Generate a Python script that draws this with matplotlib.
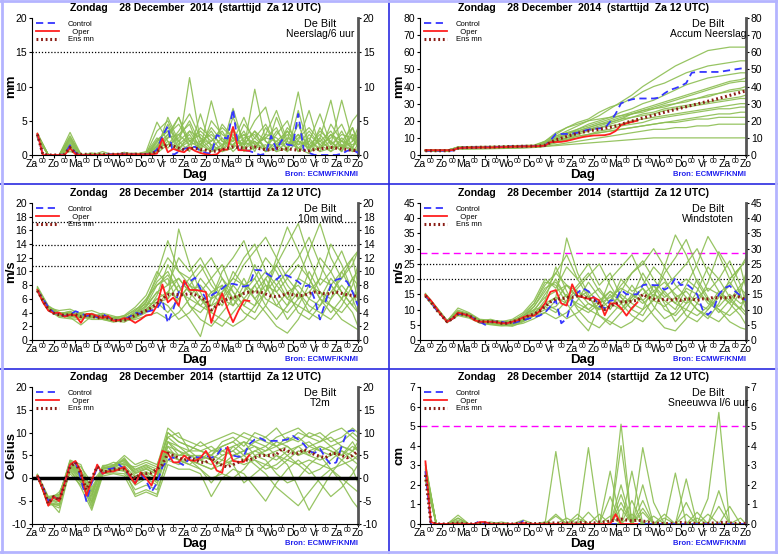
import numpy as np
import matplotlib
matplotlib.use('Agg')
import matplotlib.pyplot as plt
from matplotlib.lines import Line2D

plt.rcParams['font.family'] = ['Liberation Sans', 'DejaVu Sans']

# tijdas (uren na Za 12 UTC)
hours = np.arange(6, 361, 6)
oper_hours = hours[:40]
member_hours = list(range(6, 355, 12)) + [360]

day_labels = ['Za', 'Zo', 'Ma', 'Di', 'Wo', 'Do', 'Vr', 'Za', 'Zo', 'Ma', 'Di', 'Wo', 'Do', 'Vr', 'Za', 'Zo']
title_text = 'Zondag    28 December  2014  (starttijd  Za 12 UTC)'

# ---------------- Neerslag/6 uur ----------------
precip_control = [3.0, 0, 0, 0, 0, 0.1, 1.4, 0.3, 0, 0,
                  0, 0, 0, 0.1, 0.1, 0.1, 0.2, 0.1, 0.1, 0.1,
                  0.1, 0.2, 0.8, 2.8, 4.2, 0.0, 0.5, 0.9, 1.1, 1.2,
                  0.6, 0.3, 0.2, 2.9, 2.6, 2.4, 6.7, 0.8, 0.7, 0.6,
                  0.3, 0, 0.2, 2.8, 0.8, 2.2, 1.5, 1.4, 6.0, 0.8,
                  0.3, 0, 0, 0, 0, 0, 0.2, 0.6, 0.8, 0.3]
precip_oper = [3.1, 0, 0, 0, 0, 0, 1.0, 0.1, 0, 0,
               0, 0, 0, 0, 0.1, 0.1, 0.1, 0.1, 0.1, 0.1,
               0.1, 0.1, 0.2, 2.4, 0.4, 0.9, 0.6, 0.4, 1.1, 0.6,
               0.3, 0.1, 0.0, 0.1, 0.8, 0.8, 4.1, 0.7, 0.7, 0.6]
precip_mean = [3.0, 0.1, 0, 0, 0, 0.1, 1.1, 0.2, 0.1, 0.1,
               0.1, 0.1, 0.1, 0.1, 0.1, 0.1, 0.2, 0.1, 0.1, 0.1,
               0.1, 0.2, 0.5, 1.2, 1.5, 1.3, 1.0, 0.8, 0.9, 1.0,
               0.8, 0.7, 0.5, 0.6, 0.8, 1.0, 1.2, 1.1, 1.0, 1.0,
               1.2, 0.9, 0.8, 0.7, 1.0, 0.8, 0.9, 0.8, 0.7, 0.7,
               0.6, 0.8, 0.9, 1.0, 1.1, 1.0, 0.9, 0.8, 0.7, 0.6]
precip_members = [
    [2.8, 0, 0, 1.5, 0, 0.1, 0, 0, 0.2, 0, 0.1, 1.2, 4.5, 1.0, 11.3, 2.0, 0.5, 1.5, 3.0, 0.8, 2.0, 0.5, 1.0, 3.5, 1.0, 0.2, 2.5, 0.5, 1.5, 0.8, 0.5],
    [3.2, 0, 0, 3.3, 0.1, 0, 0, 0.1, 0, 0.3, 0, 0.5, 2.5, 5.5, 2.0, 1.0, 7.9, 2.0, 1.5, 3.5, 0.5, 4.0, 1.5, 0.5, 2.0, 6.5, 1.0, 2.0, 0.5, 3.0, 1.0],
    [2.5, 0, 0, 0.8, 0, 0, 0.5, 0, 0.1, 0, 0.2, 3.5, 5.0, 1.5, 3.0, 0.5, 1.0, 4.5, 2.5, 1.0, 9.6, 2.0, 0.5, 1.0, 3.0, 1.5, 0.5, 4.5, 2.0, 1.0, 2.5],
    [3.0, 0, 0, 2.2, 0, 0, 0, 0, 0.4, 0, 0, 0.3, 1.5, 3.5, 6.0, 2.5, 0.8, 1.0, 5.5, 2.0, 1.0, 3.0, 6.5, 2.0, 9.2, 1.0, 2.0, 1.0, 3.5, 0.5, 1.0],
    [2.7, 0, 0, 1.0, 0, 0.2, 0, 0, 0, 0.1, 0.5, 4.8, 2.0, 0.5, 1.5, 4.0, 2.5, 0.5, 1.0, 4.5, 2.5, 1.0, 3.0, 5.0, 0.5, 2.0, 6.0, 1.5, 8.0, 2.0, 4.0],
    [2.9, 0, 0, 2.8, 0, 0, 0.2, 0, 0, 0, 0.1, 1.5, 3.0, 5.5, 1.0, 1.5, 3.5, 1.0, 6.8, 1.5, 3.5, 0.5, 2.0, 1.0, 4.5, 0.5, 1.0, 3.0, 1.0, 5.0, 6.0],
    [2.6, 0, 0, 0.5, 0, 0, 0, 0, 0.3, 0.2, 0, 0.8, 5.5, 2.0, 0.5, 6.0, 1.0, 2.5, 0.5, 2.0, 5.0, 7.0, 1.0, 2.5, 1.5, 3.5, 1.5, 0.5, 2.5, 1.0, 0.5],
    [3.1, 0, 0, 1.8, 0.1, 0, 0, 0, 0, 0, 0.3, 2.5, 1.0, 3.0, 4.5, 0.5, 5.0, 3.0, 2.0, 5.5, 1.5, 2.5, 4.0, 0.5, 6.5, 1.0, 3.5, 2.0, 0.5, 4.0, 2.0],
    [2.5, 0, 0, 1.2, 0, 0, 0, 0, 0, 0, 0, 0.5, 2.0, 1.0, 2.5, 1.5, 0.5, 1.0, 4.0, 0.5, 1.0, 1.5, 0.5, 2.0, 1.0, 2.5, 0.5, 1.0, 1.5, 0.5, 1.5],
    [3.0, 0, 0, 2.0, 0, 0.3, 0, 0, 0.2, 0, 0, 2.0, 3.5, 0.5, 3.5, 2.5, 1.5, 0.5, 2.5, 1.5, 2.0, 0.5, 5.5, 1.5, 2.0, 1.0, 2.5, 8.0, 1.0, 2.0, 3.0],
    [2.7, 0, 0, 1.6, 0, 0, 0.1, 0, 0, 0.2, 0.1, 1.0, 2.5, 3.0, 1.5, 2.0, 3.0, 1.5, 2.0, 3.0, 1.5, 2.5, 2.0, 3.5, 1.5, 2.0, 1.0, 3.0, 2.0, 1.5, 2.0],
    [2.9, 0, 0, 2.4, 0, 0, 0, 0.2, 0.1, 0, 0, 1.8, 4.0, 2.0, 3.5, 1.0, 2.0, 3.5, 1.0, 2.5, 3.0, 1.0, 3.5, 1.5, 3.0, 0.5, 4.0, 1.5, 3.0, 2.5, 1.0],
    [3.0, 0, 0, 1.3, 0, 0.1, 0, 0, 0, 0, 0.2, 0.6, 3.0, 4.5, 2.0, 3.0, 1.5, 0.5, 3.5, 1.0, 2.5, 4.5, 1.5, 3.0, 0.5, 3.0, 1.5, 2.5, 4.5, 1.0, 3.5],
    [2.6, 0, 0, 2.6, 0.1, 0, 0, 0, 0.1, 0.1, 0, 1.3, 1.5, 2.5, 5.0, 1.5, 4.0, 2.0, 1.5, 3.0, 1.0, 3.0, 2.5, 1.0, 2.5, 4.0, 2.0, 3.5, 1.0, 3.0, 2.5],
    [2.8, 0, 0, 0.9, 0, 0, 0, 0, 0.2, 0, 0.1, 2.2, 3.5, 1.0, 2.0, 3.5, 2.0, 4.0, 2.5, 1.5, 3.5, 2.0, 1.0, 4.0, 2.0, 1.5, 3.0, 1.0, 2.0, 4.0, 1.5],
]

# ---------------- Accum Neerslag ----------------
accum_control = [2.5, 2.5, 2.5, 2.5, 2.5, 2.6, 4.0, 4.3, 4.4, 4.4,
                 4.5, 4.5, 4.6, 4.7, 4.8, 4.9, 5.0, 5.0, 5.1, 5.1,
                 5.2, 5.3, 5.5, 8.5, 12.3, 12.3, 12.3, 12.5, 13.0, 14.0,
                 14.8, 15.3, 15.5, 15.5, 19.5, 24.0, 30.2, 31.5, 32.5, 33.0,
                 33.0, 33.0, 33.0, 33.5, 36.0, 38.0, 39.0, 40.3, 42.0, 48.0,
                 48.5, 48.5, 48.5, 48.5, 48.5, 49.0, 49.5, 50.0, 50.5, 51.0]
accum_oper = [2.8, 2.8, 2.8, 2.8, 2.8, 2.9, 3.9, 4.2, 4.3, 4.3,
              4.4, 4.4, 4.4, 4.5, 4.6, 4.7, 4.8, 4.9, 5.0, 5.0,
              5.1, 5.2, 5.5, 7.5, 7.6, 7.7, 8.2, 9.0, 9.8, 10.5,
              11.0, 11.4, 11.5, 11.6, 12.3, 14.0, 17.5, 18.5, 19.3, 20.0]
accum_mean = [2.5, 2.5, 2.5, 2.5, 2.5, 2.6, 4.0, 4.3, 4.4, 4.4,
              4.5, 4.5, 4.6, 4.7, 4.8, 4.9, 5.0, 5.0, 5.1, 5.1,
              5.2, 5.3, 5.7, 7.3, 8.8, 9.8, 10.8, 11.8, 12.6, 13.4,
              14.0, 14.6, 15.1, 15.6, 16.2, 16.9, 17.8, 19.0, 19.8, 20.7,
              21.6, 22.4, 23.3, 24.1, 25.0, 25.8, 26.6, 27.4, 28.2, 29.0,
              29.8, 30.6, 31.4, 32.2, 33.1, 33.9, 34.8, 35.7, 36.6, 37.5]
accum_members = [
    [2.8, 2.8, 2.8, 4.3, 4.4, 4.5, 4.6, 4.8, 5.0, 5.2, 5.5, 7.5, 11, 14, 17, 20, 23, 27, 31, 35, 40, 44, 48, 52, 55, 58, 61, 62, 63, 63, 63],
    [2.5, 2.5, 2.5, 4.8, 4.9, 5.0, 5.1, 5.2, 5.4, 5.6, 5.8, 8, 13, 16, 19, 21, 25, 28, 30, 33, 37, 40, 42, 45, 48, 50, 52, 53, 54, 55, 55],
    [3.0, 3.0, 3.0, 4.0, 4.0, 4.2, 4.4, 4.5, 4.6, 4.8, 5.0, 6.5, 10, 12, 15, 18, 20, 22, 25, 27, 30, 32, 35, 38, 41, 43, 45, 46, 47, 48, 48],
    [2.2, 2.2, 2.2, 3.8, 3.8, 3.9, 4.0, 4.2, 4.5, 4.6, 4.7, 6, 9, 11, 13, 15, 17, 19, 21, 24, 26, 28, 30, 32, 34, 36, 38, 40, 42, 43, 43],
    [2.6, 2.6, 2.6, 4.5, 4.5, 4.6, 4.7, 4.9, 5.0, 5.1, 5.3, 8, 12, 16, 18, 20, 21, 22, 23, 24, 26, 27, 28, 30, 31, 33, 34, 36, 37, 38, 38],
    [2.9, 2.9, 2.9, 4.2, 4.2, 4.4, 4.6, 4.6, 4.8, 5.0, 5.2, 6, 8, 10, 13, 15, 16, 18, 20, 22, 23, 24, 26, 27, 28, 29, 30, 31, 32, 33, 33],
    [2.4, 2.4, 2.4, 4.0, 4.0, 4.1, 4.2, 4.3, 4.4, 4.5, 4.6, 5.5, 7, 9, 11, 12, 14, 15, 17, 18, 19, 21, 22, 23, 24, 25, 26, 27, 27, 28, 28],
    [2.7, 2.7, 2.7, 4.4, 4.5, 4.5, 4.5, 4.6, 4.7, 4.8, 5.0, 6, 8, 9, 10, 12, 13, 14, 15, 16, 17, 18, 19, 19, 20, 21, 21, 22, 22, 22, 22],
    [2.3, 2.3, 2.3, 3.5, 3.5, 3.6, 3.7, 3.8, 4.0, 4.2, 4.4, 5, 6, 7, 8, 9, 10, 11, 12, 13, 14, 15, 15, 16, 16, 17, 17, 18, 18, 18, 18],
    [2.5, 2.5, 2.5, 3.6, 3.6, 3.7, 3.8, 3.9, 4.0, 4.2, 4.5, 5, 5.5, 6, 6.5, 7, 7.5, 8, 8.5, 9, 9.5, 10, 10, 10, 10, 10, 10, 10, 10, 10, 10],
    [2.6, 2.6, 2.6, 4.4, 4.4, 4.5, 4.6, 4.7, 4.8, 5.0, 5.2, 7, 10, 13, 15, 17, 19, 21, 23, 25, 27, 29, 31, 33, 35, 37, 39, 41, 43, 44, 45],
    [2.4, 2.4, 2.4, 4.1, 4.1, 4.2, 4.3, 4.4, 4.6, 4.8, 5.0, 6, 9, 12, 14, 16, 18, 20, 22, 24, 25, 27, 29, 30, 32, 33, 35, 36, 38, 39, 40],
    [2.8, 2.8, 2.8, 4.6, 4.6, 4.7, 4.8, 4.9, 5.1, 5.2, 5.4, 7, 11, 13, 14, 16, 18, 19, 21, 22, 24, 25, 27, 28, 29, 30, 31, 32, 33, 34, 35],
    [2.5, 2.5, 2.5, 3.9, 3.9, 4.0, 4.1, 4.2, 4.3, 4.4, 4.6, 5.5, 8, 10, 12, 14, 16, 17, 18, 20, 21, 22, 23, 24, 25, 26, 27, 28, 29, 30, 30],
    [2.7, 2.7, 2.7, 4.3, 4.3, 4.4, 4.5, 4.6, 4.7, 4.9, 5.1, 6, 8, 10, 11, 12, 13, 14, 15, 16, 17, 18, 19, 20, 21, 22, 23, 24, 24, 25, 25],
]

# ---------------- 10m wind ----------------
wind_control = [7.2, 6.0, 4.8, 4.0, 3.7, 3.5, 3.7, 4.2, 3.9, 3.5,
                3.7, 3.3, 3.8, 3.3, 2.9, 2.9, 3.0, 3.4, 4.0, 3.8,
                4.1, 4.3, 4.6, 5.8, 2.5, 4.5, 7.0, 8.2, 8.5, 9.1,
                7.5, 6.0, 6.5, 7.0, 7.5, 8.2, 8.2, 8.0, 7.8, 8.0,
                10.2, 10.2, 9.8, 9.3, 8.8, 9.6, 9.4, 9.0, 8.5, 7.8,
                8.0, 6.0, 3.0, 5.5, 8.0, 8.8, 9.0, 8.5, 7.0, 5.0]
wind_oper = [7.3, 5.5, 4.3, 3.9, 4.0, 3.4, 3.7, 3.6, 2.5, 3.8,
             3.8, 3.5, 3.2, 3.5, 2.8, 2.9, 3.2, 3.0, 2.5, 3.0,
             3.6, 3.7, 5.0, 8.1, 5.5, 6.2, 5.0, 8.7, 7.3, 7.3,
             7.2, 7.0, 2.5, 5.0, 6.8, 4.5, 2.6, 4.3, 5.8, 5.7]
wind_mean = [7.2, 5.8, 4.5, 3.9, 3.7, 3.6, 3.7, 3.7, 3.4, 3.6,
             3.5, 3.2, 3.4, 3.2, 2.9, 2.8, 2.9, 3.2, 3.6, 4.0,
             4.3, 4.7, 5.3, 6.0, 6.6, 6.7, 6.6, 6.6, 6.8, 6.6,
             6.2, 5.8, 4.4, 5.0, 5.6, 6.0, 6.2, 6.4, 6.8, 7.0,
             7.0, 7.0, 6.7, 6.4, 6.3, 6.5, 6.8, 6.6, 6.5, 6.5,
             6.8, 7.0, 6.9, 6.7, 6.8, 7.0, 6.8, 6.6, 6.5, 6.3]
wind_members = [
    [7.5, 4.8, 3.8, 4.2, 3.5, 3.8, 3.2, 3.0, 3.2, 3.8, 5.5, 9.5, 14.5, 10, 8, 6, 4, 7, 9, 12, 14, 10, 8, 6, 9, 13, 17, 12, 9, 11, 13],
    [7.0, 4.3, 3.5, 3.3, 2.2, 3.5, 3.6, 2.8, 2.6, 3.5, 4.8, 7, 6, 16.2, 11, 7, 3, 2, 4, 6, 8, 5, 3, 5, 7, 4, 3, 6, 10, 12, 8],
    [7.8, 5.0, 4.0, 3.8, 4.0, 4.3, 3.7, 3.3, 3.0, 4.2, 6.0, 8, 9, 5, 3, 0.5, 6, 10, 12, 14.5, 10, 7, 12, 16.5, 13, 9, 6, 4, 6, 9, 10],
    [7.2, 4.6, 3.6, 3.6, 3.4, 3.0, 3.0, 2.7, 3.4, 4.5, 5.2, 5.5, 4, 6, 8, 10, 12, 9, 6, 4, 3, 5, 8, 10, 12, 15, 11, 8, 6, 4, 2],
    [7.4, 4.7, 4.3, 4.5, 3.8, 3.4, 3.9, 3.5, 3.0, 3.2, 4.0, 6.5, 11, 8, 5, 3, 2, 4, 6, 9, 6, 4, 2, 1, 3, 6, 9, 14, 11, 7, 5],
    [7.3, 4.4, 3.3, 3.1, 3.0, 3.8, 3.3, 2.9, 2.8, 3.0, 3.5, 4, 3, 4, 6, 9, 7, 5, 8, 11, 13, 15, 12, 9, 7, 5, 4, 3, 5, 8, 11],
    [7.6, 4.9, 3.9, 4.0, 3.6, 3.2, 3.5, 3.1, 3.6, 4.8, 6.5, 10, 8, 12, 10, 12, 9, 11, 7, 5, 4, 7, 11, 14, 17, 12, 8, 10, 13, 9, 6],
    [7.1, 4.5, 3.7, 3.5, 3.3, 3.6, 3.0, 2.6, 2.9, 3.3, 4.2, 5, 7, 9, 7, 5, 4, 3, 2, 3, 5, 9, 6, 3, 5, 8, 12, 10, 7, 5, 4],
    [7.5, 4.6, 3.9, 3.7, 3.9, 3.7, 3.4, 3.2, 3.1, 3.9, 5.0, 8, 9.5, 7, 9, 11, 8, 6, 10, 8, 9, 12, 10, 7, 4, 3, 5, 7, 9, 12, 13],
    [7.3, 4.7, 3.6, 3.4, 3.2, 3.3, 3.1, 2.8, 3.3, 3.6, 4.5, 6, 5, 3, 4, 6, 5, 8, 5, 7, 11, 8, 5, 4, 6, 10, 7, 5, 3, 2, 1.5],
    [7.4, 4.5, 3.7, 3.9, 3.5, 3.6, 3.4, 3.0, 3.1, 3.7, 5.0, 7, 8, 9, 7, 8, 6, 7, 9, 8, 7, 9, 11, 8, 6, 7, 9, 8, 10, 7, 6],
    [7.2, 4.8, 3.8, 3.7, 3.3, 3.4, 3.2, 2.9, 3.2, 4.0, 5.5, 8.5, 10, 7, 6, 5, 7, 8, 6, 7, 9, 6, 5, 7, 8, 6, 5, 8, 6, 9, 8],
    [7.6, 4.6, 3.5, 3.6, 3.7, 3.5, 3.6, 3.1, 3.0, 3.4, 4.5, 6, 7, 6, 8, 7, 9, 6, 5, 8, 6, 8, 7, 5, 9, 8, 7, 6, 8, 6, 7],
    [7.3, 4.4, 3.9, 4.1, 3.4, 3.9, 3.3, 3.3, 3.5, 4.3, 5.8, 9, 12, 10, 9, 6, 5, 6, 8, 6, 5, 7, 9, 6, 5, 4, 6, 9, 7, 5, 9],
    [7.1, 4.7, 3.6, 3.4, 3.6, 3.3, 3.5, 2.8, 2.9, 3.5, 4.2, 5.5, 6, 8, 5, 4, 6, 9, 7, 5, 8, 10, 7, 9, 11, 9, 6, 5, 4, 6, 4],
]

# ---------------- Windstoten ----------------
gust_control = [14.5, 12.5, 10.0, 8.0, 6.0, 7.0, 8.5, 8.5, 8.0, 7.0,
                6.0, 5.0, 6.0, 6.0, 6.0, 5.5, 5.5, 6.0, 6.5, 7.0,
                7.5, 8.0, 9.0, 11.0, 13.0, 5.5, 7.0, 13.0, 15.5, 17.0,
                16.0, 14.0, 11.0, 10.5, 13.0, 13.0, 16.5, 15.0, 15.0, 15.0,
                18.0, 18.3, 18.0, 18.0, 16.5, 17.5, 20.3, 18.0, 18.5, 17.0,
                15.0, 10.0, 8.3, 10.0, 15.0, 17.0, 17.8, 16.0, 14.5, 13.0]
gust_oper = [14.8, 13.0, 10.5, 8.0, 6.0, 7.0, 9.0, 8.5, 8.0, 6.5,
             6.0, 6.0, 6.0, 5.8, 5.5, 5.5, 6.0, 6.5, 7.5, 8.0,
             8.0, 9.5, 12.0, 15.8, 16.4, 12.0, 11.3, 18.3, 14.5, 14.0,
             13.5, 14.0, 13.0, 8.1, 12.0, 12.0, 10.5, 8.0, 10.5, 12.3]
gust_mean = [14.5, 12.5, 10.0, 8.0, 6.0, 7.0, 8.5, 8.5, 8.0, 7.0,
             6.0, 6.0, 6.0, 6.0, 5.5, 5.5, 6.0, 6.5, 7.0, 8.0,
             8.5, 9.5, 11.0, 12.5, 13.5, 13.5, 14.0, 14.0, 14.5, 14.3,
             13.5, 13.0, 12.0, 10.0, 11.0, 12.0, 12.5, 12.5, 12.8, 13.0,
             15.0, 14.0, 13.5, 13.0, 13.5, 13.0, 13.5, 13.0, 13.5, 13.5,
             13.0, 13.5, 13.5, 14.0, 13.8, 13.8, 14.0, 14.5, 14.0, 13.2]
gust_members = [
    [14.8, 10.5, 6.0, 9.0, 8.5, 6.5, 6.0, 5.5, 5.5, 7.5, 11, 16, 22, 28, 20, 14, 10, 13, 18, 22, 26, 20, 15, 12, 18, 25, 34, 28, 20, 24, 27],
    [14.2, 9.8, 5.8, 8.2, 7.8, 5.5, 5.2, 4.8, 4.5, 6.0, 8, 11, 14, 33.5, 22, 15, 8, 5, 9, 13, 17, 11, 7, 9, 14, 10, 7, 12, 20, 24, 17],
    [15.3, 10.8, 6.3, 10.5, 9.0, 6.8, 6.5, 6.2, 6.0, 8.5, 12, 19, 18, 12, 7, 3, 11, 20, 24, 28, 20, 14, 24, 34.5, 28, 19, 13, 9, 13, 18, 20],
    [14.5, 10.2, 6.2, 8.8, 8.2, 6.0, 5.8, 5.0, 6.5, 8.0, 10, 11, 9, 13, 17, 21, 25, 18, 12, 8, 6, 10, 17, 21, 25, 30, 22, 16, 12, 8, 5],
    [14.9, 10.6, 5.9, 9.5, 8.0, 6.2, 6.8, 5.8, 5.2, 6.5, 8.5, 13, 24, 16, 10, 6, 4, 8, 12, 18, 13, 8, 4, 3, 7, 12, 19, 29, 23, 15, 10],
    [14.6, 10.0, 6.1, 8.5, 7.5, 5.8, 5.5, 5.2, 4.8, 5.5, 7, 9, 7, 9, 13, 19, 14, 10, 16, 22, 25, 30, 24, 18, 14, 10, 8, 6, 10, 16, 22],
    [15.0, 10.9, 6.4, 9.8, 8.7, 6.6, 6.2, 6.0, 6.8, 9.0, 13, 20, 17, 24, 20, 25, 18, 22, 14, 10, 8, 14, 22, 27, 33, 24, 16, 20, 26, 18, 12],
    [14.4, 10.3, 5.7, 8.0, 7.2, 5.6, 5.0, 4.6, 5.0, 6.2, 8, 9, 13, 18, 14, 10, 8, 6, 4, 6, 10, 18, 12, 6, 10, 16, 24, 20, 14, 10, 8],
    [14.7, 10.4, 6.0, 9.2, 8.4, 6.3, 6.0, 5.6, 5.8, 7.0, 9.5, 15, 20, 14, 18, 22, 16, 12, 20, 16, 18, 24, 20, 14, 8, 6, 10, 14, 18, 24, 26],
    [14.5, 10.1, 6.2, 8.6, 7.9, 6.0, 5.4, 5.0, 5.5, 6.8, 8.5, 12, 10, 7, 9, 12, 10, 15, 10, 14, 22, 16, 10, 8, 12, 20, 14, 10, 6, 4, 3.5],
    [14.6, 10.3, 6.1, 9.0, 8.1, 6.1, 5.9, 5.4, 5.6, 7.2, 10, 14, 16, 18, 14, 16, 12, 14, 17, 15, 13, 16, 19, 15, 12, 14, 17, 15, 19, 14, 12],
    [14.8, 10.6, 6.3, 8.7, 8.3, 6.4, 6.1, 5.3, 5.9, 7.6, 11, 17, 19, 14, 12, 10, 13, 16, 12, 14, 17, 13, 11, 14, 16, 12, 10, 15, 12, 17, 15],
    [15.1, 10.2, 5.9, 9.3, 8.6, 6.2, 6.3, 5.7, 5.4, 6.6, 9, 12, 14, 12, 16, 14, 17, 12, 10, 15, 12, 15, 13, 10, 17, 15, 13, 11, 15, 12, 13],
    [14.4, 10.5, 6.2, 8.9, 7.8, 6.5, 5.6, 5.5, 6.2, 7.8, 12, 18, 22, 18, 16, 12, 10, 11, 15, 12, 10, 13, 16, 12, 10, 8, 11, 16, 13, 10, 16],
    [14.7, 10.7, 6.0, 8.4, 8.2, 5.9, 6.4, 5.1, 5.1, 6.4, 8, 10, 11, 15, 11, 9, 12, 16, 14, 10, 15, 18, 14, 17, 20, 17, 12, 10, 8, 11, 9],
]

# ---------------- T2m ----------------
temp_control = [0.5, -2.0, -5.0, -4.0, -4.8, -1.0, 3.0, 3.5, 0.0, -5.0,
                -1.0, 2.5, 1.0, 2.0, 2.2, 3.0, 2.0, 0.5, -1.0, 1.0,
                -0.5, -3.0, -1.0, 2.5, 4.0, 4.6, 3.5, 2.8, 4.5, 4.7,
                4.5, 5.0, 4.5, 5.0, 6.8, 6.5, 5.0, 4.7, 5.0, 7.5,
                8.5, 8.8, 8.2, 8.2, 8.2, 8.3, 8.5, 9.3, 8.5, 7.5,
                6.0, 5.5, 6.5, 4.5, 3.0, 3.5, 7.0, 10.2, 10.5, 10.0]
temp_oper = [0.5, -2.5, -6.0, -4.0, -5.0, -1.0, 3.0, 3.8, 1.5, -3.8,
             -0.5, 3.0, 1.0, 1.5, 1.5, 2.0, 2.5, 0.5, -1.2, 1.3,
             0.0, -1.6, 2.0, 6.0, 5.5, 3.5, 3.5, 5.0, 4.0, 3.8,
             4.5, 6.0, 4.0, 1.7, 1.2, 6.9, 3.8, 3.6, 3.6, 5.1]
temp_mean = [0.5, -2.0, -5.5, -4.0, -4.8, -1.5, 2.5, 3.5, 1.0, -2.5,
             0.0, 2.5, 1.5, 1.5, 2.0, 2.0, 2.0, 1.0, 0.0, 1.0,
             1.0, 1.2, 2.0, 3.0, 5.5, 5.0, 4.5, 4.0, 4.5, 4.0,
             3.5, 3.5, 4.5, 3.5, 2.8, 2.5, 3.0, 3.5, 4.0, 4.0,
             4.5, 5.0, 5.0, 5.0, 5.2, 6.5, 6.0, 5.5, 5.5, 6.3,
             5.8, 5.2, 4.8, 4.5, 5.3, 5.5, 5.0, 4.5, 5.0, 6.0]
temp_members = [
    [0.8, -4.0, -3.5, 3.5, 1.5, -2.0, 2.0, 2.5, 4.5, 1.0, 2.0, 1.0, 10, 8, 7, 6, 5, 8, 9, 7, 10, 9, 11, 8, 10, 9, 10, 8, 9, 11, 10],
    [0.5, -5.5, -6.5, 2.5, -0.5, -6.5, 1.0, 1.5, 2.0, -3.5, -2.5, -3.5, 5, 4, 3, 2, -1, 2, 4, 5, 3, 1, -2, -4, -6, -3, 0, 2, -1, -5, -6.5],
    [0.3, -4.5, -4.0, 4.0, 3.0, -3.0, 2.5, 3.5, 3.0, 2.5, 3.5, 2.5, 11, 9, 8, 7, 8, 9, 10, 9, 8, 7, 9, 10, 11, 9, 8, 10, 11, 9, 8],
    [0.6, -6.0, -5.0, 3.0, 0.5, -5.0, 1.5, 2.0, 1.5, -1.5, 0, -1.5, 6, 5, 5, 4, 3, 5, 6, 4, 6, 5, 4, 6, 7, 5, 4, 5, 6, 5, 4],
    [0.9, -5.0, -3.0, 1.0, -1.5, -4.0, 2.8, 3.0, 4.0, 0.5, 1.5, 0, 8, 6, 4, 3, 2, 4, 3, -1, 1, 3, 5, 3, -2, -7, -3, 1, 4, 2, -1],
    [0.4, -4.8, -7.5, 2.0, -2.0, -7.0, 0.5, 1.0, 0.5, -4.0, -3.0, -4.0, 3, 2, 2, 1, -4, 0, 2, 1, -2, -5, -1, 2, 4, 2, -1, -4, -2, 1, 3],
    [0.7, -5.2, -4.5, 3.8, 2.5, -1.0, 2.2, 2.8, 5.0, 3.0, 4.0, 3.0, 9, 10, 6, 8, 6, 7, 8, 10, 9, 8, 7, 9, 8, 10, 9, 7, 8, 10, 9],
    [0.5, -5.8, -5.5, 2.8, 0, -5.5, 1.2, 1.8, 2.5, -0.5, 1.0, -1.0, 7, 4, 3, 5, 4, 3, 5, 6, 4, 2, 3, 5, 3, 1, 2, 4, 6, 4, 5],
    [0.6, -4.2, -3.8, 3.2, 1.0, -3.5, 2.0, 2.2, 3.5, 1.5, 2.5, 1.5, 8, 7, 5, 4, 6, 6, 7, 8, 7, 6, 8, 7, 5, 6, 7, 6, 5, 7, 6],
    [0.4, -5.5, -6.0, 1.5, -1.0, -6.0, 1.0, 1.2, 1.0, -2.5, -1.5, -2.5, 4, 3, 4, 2, 0, 1, 0, 2, 5, 4, 1, -1, 0, 3, 5, 2, 0, -2, -3],
    [0.6, -4.6, -4.2, 3.4, 1.2, -3.0, 2.3, 2.6, 3.2, 1.2, 2.2, 0.8, 7, 6, 5, 5, 4, 6, 5, 6, 7, 5, 6, 7, 5, 7, 6, 5, 7, 6, 5],
    [0.5, -5.3, -5.0, 2.6, 0.2, -4.5, 1.6, 2.0, 2.8, 0.2, 1.2, 0.2, 8, 5, 6, 4, 5, 4, 7, 5, 6, 7, 5, 4, 6, 5, 7, 6, 4, 6, 7],
    [0.7, -4.9, -4.6, 3.6, 1.8, -2.5, 2.1, 2.9, 3.8, 2.0, 3.0, 2.0, 9, 7, 6, 6, 7, 5, 6, 8, 5, 6, 7, 5, 7, 8, 6, 7, 5, 8, 6],
    [0.4, -5.6, -5.8, 2.2, -0.8, -5.2, 1.3, 1.6, 1.8, -1.0, 0.5, -0.5, 6, 4, 4, 3, 2, 3, 4, 3, 4, 3, 2, 4, 3, 4, 3, 2, 3, 4, 3],
    [0.8, -4.4, -3.6, 3.0, 0.8, -3.8, 2.5, 2.4, 4.2, 1.8, 2.8, 1.2, 10, 8, 7, 6, 5, 7, 8, 6, 8, 9, 7, 8, 9, 7, 8, 9, 7, 6, 8],
]

# ---------------- Sneeuwval/6 uur ----------------
snow_control = [2.7, 0, 0, 0, 0, 0, 0, 0, 0, 0,
                0.15, 0, 0, 0, 0, 0, 0, 0, 0.15, 0,
                0, 0, 0, 0, 0, 0, 0, 0, 0, 0,
                0, 0, 0, 0, 0, 0, 0, 0, 0, 0,
                0, 0, 0, 0, 0, 0, 0, 0, 0, 0,
                0, 0, 0, 0, 0, 0, 0, 0, 0, 0]
snow_oper = [3.2, 0.1, 0, 0, 0, 0, 0, 0, 0, 0,
             0.1, 0.1, 0, 0, 0, 0, 0, 0, 0.05, 0,
             0, 0, 0, 0, 0, 0, 0, 0, 0, 0,
             0, 0, 0, 0, 0, 0.5, 0, 0, 0, 0]
snow_mean = [2.5, 0.1, 0, 0, 0, 0.02, 0.05, 0.02, 0, 0,
             0.02, 0.05, 0.02, 0, 0, 0, 0, 0.02, 0.05, 0.02,
             0.02, 0.02, 0.03, 0.05, 0.05, 0.03, 0.05, 0.05, 0.05, 0.08,
             0.05, 0.05, 0.1, 0.1, 0.15, 0.2, 0.25, 0.2, 0.15, 0.2,
             0.15, 0.1, 0.05, 0.03, 0.02, 0.02, 0.05, 0.08, 0.05, 0.03,
             0.02, 0.02, 0.03, 0.05, 0.05, 0.1, 0.05, 0.03, 0.02, 0.02]
snow_members = [
    [2.5, 0, 0, 0.45, 0, 0, 0, 0, 0, 0, 0, 0, 3.7, 0, 0, 0, 0, 0, 5.1, 0, 0, 0, 0, 0, 0, 0, 0, 0, 0, 0, 0],
    [3.0, 0, 0, 0.3, 0, 0, 0, 0, 0, 0, 0, 0, 0, 0, 0, 3.9, 0, 0, 1.5, 0, 0.8, 0, 0, 0, 0, 0, 0, 0, 0, 0, 0],
    [2.8, 0, 0, 0, 0, 0, 0, 0, 0, 0, 0, 0, 0, 0, 0, 0, 0, 2.7, 0, 2.7, 0, 0, 0, 0, 2.3, 0, 0, 0, 0, 0, 0],
    [2.2, 0, 0, 0, 0, 0, 0, 0, 0, 0, 0, 0, 0, 0, 0, 0, 0, 0, 0, 0, 3.9, 1.1, 0, 2.6, 0, 0, 0, 0, 0, 0, 0],
    [2.6, 0, 0, 0, 0, 0, 0, 0, 0, 0, 0, 0, 0, 0, 0, 0, 0, 0, 0, 0, 0, 0, 0, 0, 0, 0, 1.3, 5.7, 0, 0, 0],
    [3.1, 0, 0, 0, 0, 0, 0, 0, 0, 0, 0, 0, 0, 0, 0, 0, 0, 0, 4.0, 0, 2.0, 0, 0, 0, 0, 0, 0, 1.7, 0, 0, 0],
    [2.4, 0, 0, 0, 0, 0, 0, 0, 0, 0, 0, 0, 0.5, 0, 0, 0, 0.5, 0, 0, 1.2, 0, 0, 0, 0, 0, 0, 0, 0, 0.9, 0, 0],
    [2.7, 0, 0, 0, 0, 0, 0, 0.1, 0, 0.2, 0, 0, 0, 0, 0, 0, 0, 1.4, 0, 0, 0, 0, 0.5, 0, 0, 0, 0, 0, 0, 0, 0],
    [2.5, 0, 0, 0, 0, 0, 0, 0, 0, 0, 0, 0, 0, 0, 0.5, 0, 0, 0, 2.0, 0, 0, 0, 0, 0, 0, 0.6, 0, 0, 0, 0.3, 0],
    [2.9, 0, 0, 0.1, 0, 0, 0, 0, 0, 0, 0, 0, 0, 0, 0, 0, 0, 0, 0, 0, 1.2, 0, 0, 0, 1.1, 0, 0.5, 0, 0, 0, 0],
    [2.6, 0, 0, 0.2, 0, 0, 0, 0, 0, 0, 0, 0.1, 0, 0.3, 0, 0, 0, 0, 0.8, 0, 0, 0, 0, 0, 0, 0, 0, 0, 0, 0, 0],
    [2.3, 0, 0, 0, 0, 0, 0, 0, 0, 0, 0, 0, 0, 0, 0, 0.6, 0, 0, 0, 0.5, 0, 0, 0, 0, 0, 0.3, 0, 0, 0, 0, 0],
    [2.8, 0, 0, 0.1, 0, 0, 0.1, 0, 0, 0, 0, 0, 0, 0, 0, 0, 0, 0.4, 0, 0, 0, 0, 0.3, 0, 0, 0, 0, 0.9, 0, 0, 0],
    [3.0, 0, 0, 0, 0, 0, 0, 0, 0, 0, 0, 0, 0.4, 0, 0, 0, 0, 0, 0, 0, 0.6, 0, 0, 0, 0.5, 0, 0, 0, 0, 0, 0],
    [2.5, 0, 0, 0.3, 0, 0, 0, 0, 0, 0, 0, 0, 0, 0, 0.3, 0, 0, 0, 1.1, 0, 0, 0.4, 0, 0, 0, 0, 0, 0, 0, 0, 0],
]

GREEN = '#8cbe52'
BLUE = '#3535ff'
RED = '#ff2020'
BROWN = '#8a1c14'

fig = plt.figure(figsize=(7.78, 5.54), dpi=100)

col_left = [32 / 778, 420 / 778]
row_bottom = [0.7202, 0.3863, 0.0542]
ax_w, ax_h = 326 / 778, 137 / 554


def panel(col, row, members, control, oper, mean, ylim, ystep, unit, name):
    ax = fig.add_axes([col_left[col], row_bottom[row], ax_w, ax_h])
    for m in members:
        ax.plot(member_hours, m, color=GREEN, lw=0.9, alpha=0.9, zorder=2)
    ax.plot(hours, control, color=BLUE, lw=1.3, ls=(0, (4, 2.5)), zorder=4, label='Control')
    ax.plot(oper_hours, oper, color=RED, lw=1.3, zorder=5, label='  Oper')
    ax.plot(hours, mean, color=BROWN, lw=2.2, ls=(0, (0.6, 0.9)), zorder=6, label='Ens mn')
    ax.set_xlim(0, 360)
    ax.set_ylim(*ylim)
    ax.set_yticks(np.arange(ylim[0], ylim[1] + 0.01, ystep))
    ax.yaxis.set_major_formatter(matplotlib.ticker.FormatStrFormatter('%d'))
    ax.set_xticks(np.arange(0, 361, 24))
    ax.set_xticklabels(day_labels)
    ax.set_xticks(np.arange(12, 361, 24), minor=True)
    ax.set_xticklabels(['00'] * 15, minor=True)
    ax.tick_params(axis='x', which='major', labelsize=7.5, length=2, pad=1)
    ax.tick_params(axis='x', which='minor', labelsize=5, length=2, pad=0.3)
    ax.tick_params(axis='y', which='major', labelsize=7.5, length=2.5, pad=1,
                   left=True, right=True, labelleft=True, labelright=True)
    ax.spines['top'].set_visible(False)
    ax.spines['right'].set_linewidth(2)
    ax.spines['right'].set_color('#555555')
    ax.set_ylabel(unit, fontsize=9.5, fontweight='bold')
    ax.yaxis.set_label_coords(-0.046, 0.5)
    ax.set_xlabel('Dag', fontsize=9.5, fontweight='bold')
    ax.xaxis.set_label_coords(0.5, -0.105)
    ax.text(0.5, 1.035, title_text, transform=ax.transAxes, ha='center', va='bottom',
            fontsize=7.6, fontweight='bold')
    ax.text(0.883, 0.955, 'De Bilt', transform=ax.transAxes, ha='center', va='center', fontsize=7.8)
    ax.text(0.883, 0.882, name, transform=ax.transAxes, ha='center', va='center', fontsize=7.5)
    ax.text(1.0, -0.14, 'Bron: ECMWF/KNMI', transform=ax.transAxes, ha='right', va='center',
            fontsize=5.5, fontweight='bold', color='#2020ee')
    ax.legend(loc='upper left', bbox_to_anchor=(-0.005, 1.02), frameon=False, fontsize=5.5,
              handlelength=3.0, handletextpad=1.2, labelspacing=0.05, borderpad=0.2)
    return ax


ax1 = panel(0, 0, precip_members, precip_control, precip_oper, precip_mean, (0, 20), 5, 'mm', 'Neerslag/6 uur')
ax1.axhline(15, color='black', lw=0.9, ls=(0, (1, 1.5)), zorder=1)

ax2 = panel(1, 0, accum_members, accum_control, accum_oper, accum_mean, (0, 80), 10, 'mm', 'Accum Neerslag')

ax3 = panel(0, 1, wind_members, wind_control, wind_oper, wind_mean, (0, 20), 2, 'm/s', '10m wind')
for lvl in (10.8, 13.9, 17.2):
    ax3.axhline(lvl, color='black', lw=0.9, ls=(0, (1, 1.5)), zorder=1)

ax4 = panel(1, 1, gust_members, gust_control, gust_oper, gust_mean, (0, 45), 5, 'm/s', 'Windstoten')
for lvl in (20, 25):
    ax4.axhline(lvl, color='black', lw=0.9, ls=(0, (1, 1.5)), zorder=1)
ax4.axhline(28.5, color='#ff00ff', lw=1.0, ls=(0, (5, 3)), zorder=1)

ax5 = panel(0, 2, temp_members, temp_control, temp_oper, temp_mean, (-10, 20), 5, 'Celsius', 'T2m')
ax5.axhline(0, color='black', lw=2.5, zorder=3)

ax6 = panel(1, 2, snow_members, snow_control, snow_oper, snow_mean, (0, 7), 1, 'cm', 'Sneeuwva l/6 uur')
ax6.axhline(5, color='#ff00ff', lw=1.0, ls=(0, (5, 3)), zorder=1)

# panel-scheiding
fig.add_artist(Line2D([389 / 778, 389 / 778], [0, 1], color='#2a2ae0', lw=1.2))
fig.add_artist(Line2D([0, 1], [1 - 184 / 554, 1 - 184 / 554], color='#2a2ae0', lw=1.2))
fig.add_artist(Line2D([0, 1], [1 - 369 / 554, 1 - 369 / 554], color='#2a2ae0', lw=1.2))
for xs, ys in (([0.002, 0.002], [0, 1]), ([0.998, 0.998], [0, 1]), ([0, 1], [0.003, 0.003]), ([0, 1], [0.998, 0.998])):
    fig.add_artist(Line2D(xs, ys, color='#b4b4ff', lw=2))

fig.savefig('out.png', dpi=100)
